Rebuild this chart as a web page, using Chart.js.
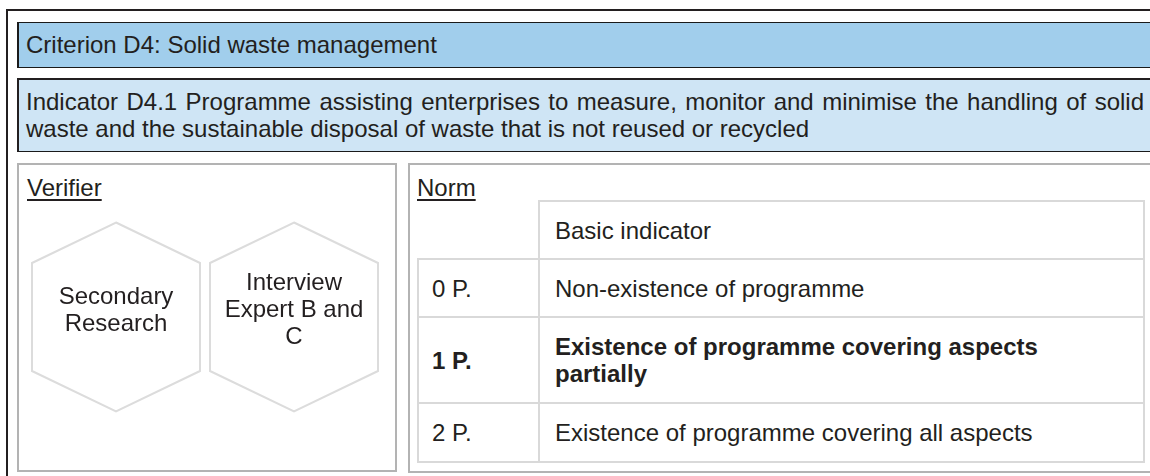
<!DOCTYPE html>
<html>
<head>
<meta charset="utf-8">
<script src="https://cdn.jsdelivr.net/npm/chart.js@4.4.1/dist/chart.umd.min.js"></script>
<style>
  html, body { margin:0; padding:0; width:1150px; height:476px; overflow:hidden; background:#fff;
    font-family:"Liberation Sans", Arial, sans-serif; color:#231f20; }
  .abs { position:absolute; box-sizing:border-box; }
  #outer { left:6px; top:9px; width:1300px; height:600px; border:2px solid #231f20; }
  #critBar { left:17px; top:22px; width:1300px; height:46px; border:1px solid #1a1a1a; border-left-width:2px; background:#a1ceec; }
  #indBar { left:17px; top:78px; width:1300px; height:74px; border:2px solid #231f20; border-bottom:1px solid #1a1a1a; background:#cfe5f5; }
  .txt { position:absolute; font-size:24px; line-height:27px; white-space:nowrap; }
  #critText { left:26px; top:31px; }
  #indText { left:26px; top:88px; width:1118px; white-space:normal; text-align:justify; }
  #verBox { left:17px; top:163px; width:380px; height:309px; border:2px solid #b3b3b3; }
  #normBox { left:408px; top:163px; width:800px; height:310px; border:2px solid #b3b3b3; }
  .head { text-decoration:underline; text-decoration-thickness:2px; text-underline-offset:3px; top:174px; }
  #verHead { left:27px; }
  #normHead { left:417px; }
  #hexWrap { position:absolute; left:27px; top:212px; width:356px; height:210px; }
  #normTable { position:absolute; left:417px; top:200px; border-collapse:collapse; table-layout:fixed;
    font-size:24px; line-height:27px; }
  #normTable td { border:2px solid #d9d9d9; padding:0 20px 0 15px; vertical-align:middle; }
  #normTable td.pt { padding-left:13px; }
  #normTable td.blank { border-top:none; border-left:none; }
  #normTable td.b { font-weight:bold; }
</style>
</head>
<body>
<script>
// ---- data ----
const criterionTitle = "Criterion D4: Solid waste management";
const indicatorTitle = "Indicator D4.1 Programme assisting enterprises to measure, monitor and minimise the handling of solid waste and the sustainable disposal of waste that is not reused or recycled";
const verifierHeading = "Verifier";
const normHeading = "Norm";
const verifierLabels = ["Secondary Research", "Interview Expert B and C"];
const verifierLines = [["Secondary", "Research"], ["Interview", "Expert B and", "C"]];
const verifierRow = [0, 0];
const normColumnHeader = "Basic indicator";
const normPoints = ["0 P.", "1 P.", "2 P."];
const normDescriptions = ["Non-existence of programme", "Existence of programme covering aspects partially", "Existence of programme covering all aspects"];
const normSelected = [false, true, false];
</script>

<div id="outer" class="abs"></div>
<div id="critBar" class="abs"></div>
<div id="indBar" class="abs"></div>
<div id="critText" class="txt"></div>
<div id="indText" class="txt"></div>
<div id="verBox" class="abs"></div>
<div id="normBox" class="abs"></div>
<div id="verHead" class="txt head"></div>
<div id="normHead" class="txt head"></div>
<div id="hexWrap"><canvas id="hexChart" width="356" height="210"></canvas></div>
<table id="normTable">
  <colgroup><col style="width:121px"><col style="width:605px"></colgroup>
  <tbody id="normBody"></tbody>
</table>

<script>
document.getElementById('critText').textContent = criterionTitle;
document.getElementById('indText').textContent = indicatorTitle;
document.getElementById('verHead').textContent = verifierHeading;
document.getElementById('normHead').textContent = normHeading;

// Norm table built from arrays
const tbody = document.getElementById('normBody');
const rowHeights = [58, 58, 86, 59];
(function(){
  const tr = document.createElement('tr');
  tr.style.height = rowHeights[0] + 'px';
  const a = document.createElement('td'); a.className = 'blank';
  const b = document.createElement('td'); b.textContent = normColumnHeader;
  tr.appendChild(a); tr.appendChild(b); tbody.appendChild(tr);
  normPoints.forEach((p, i) => {
    const r = document.createElement('tr');
    r.style.height = rowHeights[i + 1] + 'px';
    const c1 = document.createElement('td'); c1.className = 'pt' + (normSelected[i] ? ' b' : '');
    c1.textContent = p;
    const c2 = document.createElement('td'); c2.className = normSelected[i] ? 'b' : '';
    c2.textContent = normDescriptions[i];
    r.appendChild(c1); r.appendChild(c2); tbody.appendChild(r);
  });
})();

// Hexagon verifiers drawn with Chart.js
const hexPlugin = {
  id: 'hexagons',
  afterDatasetsDraw(chart) {
    const ctx = chart.ctx;
    const meta = chart.getDatasetMeta(0);
    meta.data.forEach((pt, i) => {
      const x = pt.x, y = pt.y;
      const hw = 84, tip = 94.5, sh = 54;
      ctx.save();
      ctx.beginPath();
      ctx.moveTo(x, y - tip);
      ctx.lineTo(x + hw, y - sh);
      ctx.lineTo(x + hw, y + sh);
      ctx.lineTo(x, y + tip);
      ctx.lineTo(x - hw, y + sh);
      ctx.lineTo(x - hw, y - sh);
      ctx.closePath();
      ctx.fillStyle = '#ffffff';
      ctx.fill();
      ctx.lineWidth = 2;
      ctx.strokeStyle = '#dcdcdc';
      ctx.stroke();
      const lines = verifierLines[i];
      ctx.fillStyle = '#231f20';
      ctx.font = '24px "Liberation Sans", Arial, sans-serif';
      ctx.textAlign = 'center';
      ctx.textBaseline = 'alphabetic';
      lines.forEach((ln, k) => {
        ctx.fillText(ln, x, y + (k - (lines.length - 1) / 2) * 27);
      });
      ctx.restore();
    });
  }
};

new Chart(document.getElementById('hexChart'), {
  type: 'line',
  data: {
    labels: verifierLabels,
    datasets: [{ data: verifierRow, showLine: false, pointRadius: 0, pointHoverRadius: 0 }]
  },
  options: {
    responsive: false,
    animation: false,
    events: [],
    layout: { padding: 0 },
    plugins: { legend: { display: false }, tooltip: { enabled: false } },
    scales: {
      x: { type: 'category', offset: true, display: false },
      y: { min: -1, max: 1, display: false }
    }
  },
  plugins: [hexPlugin]
});
</script>
</body>
</html>
